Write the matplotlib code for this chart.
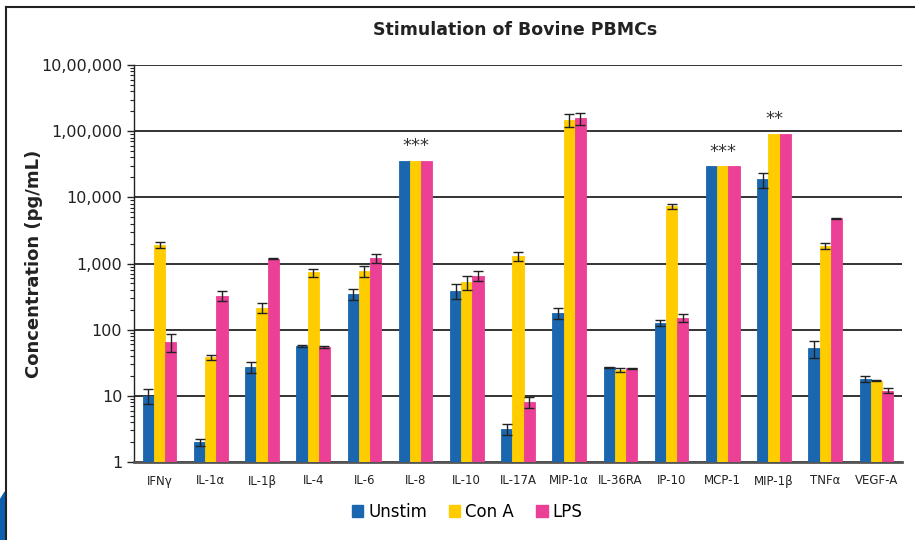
import matplotlib
matplotlib.use("Agg")
import matplotlib.pyplot as plt
import matplotlib.ticker as mticker
import matplotlib.patches as mpatches
import numpy as np

# data
cytokines = ["IFNγ", "IL-1α", "IL-1β", "IL-4", "IL-6", "IL-8", "IL-10", "IL-17A",
             "MIP-1α", "IL-36RA", "IP-10", "MCP-1", "MIP-1β", "TNFα", "VEGF-A"]
unstim = [10, 2.0, 27, 57, 346, 36000, 388, 3.2, 179, 27, 126, 30000, 18700, 52, 18]
unstim_err = [2.5, 0.25, 5, 2, 70, 0, 95, 0.6, 35, 0.5, 13, 0, 5000, 15, 2]
cona = [1900, 38, 215, 735, 770, 36000, 520, 1300, 147000, 24.6, 7300, 30000, 92000, 1860, 17]
cona_err = [200, 3, 35, 100, 150, 0, 125, 200, 32000, 1.5, 600, 0, 0, 200, 0.3]
lps = [66, 323, 1180, 55, 1200, 36000, 655, 8.0, 156000, 26, 150, 30000, 92000, 4820, 12]
lps_err = [20, 55, 30, 2, 180, 0, 120, 1.5, 30000, 0.5, 20, 0, 0, 50, 1]
stars = {"IL-8": "***", "MCP-1": "***", "MIP-1β": "**"}
yticks = [1, 10, 100, 1000, 10000, 100000, 1000000]
ytick_labels = ["1", "10", "100", "1,000", "10,000", "1,00,000", "10,00,000"]

series = [("Unstim", unstim, unstim_err, "#1a67b0"),
          ("Con A", cona, cona_err, "#ffcc00"),
          ("LPS", lps, lps_err, "#ec3f96")]

fig = plt.figure(figsize=(9.15, 5.4), dpi=100)
ax = fig.add_axes([134 / 915, 1 - 462 / 540, (902 - 134) / 915, (462 - 65) / 540])

x = np.arange(len(cytokines))
w = 0.22
for i, (name, vals, errs, col) in enumerate(series):
    ax.bar(x + (i - 1) * w, vals, w, color=col, edgecolor=col, linewidth=0.6,
           label=name, zorder=3)
    xs = [xx + (i - 1) * w for xx, e in zip(x, errs) if e > 0]
    ys = [v for v, e in zip(vals, errs) if e > 0]
    es = [e for e in errs if e > 0]
    ax.errorbar(xs, ys, yerr=es, fmt="none", ecolor="#222222", elinewidth=1,
                capsize=3.5, capthick=1, zorder=4)

for name, s in stars.items():
    k = cytokines.index(name)
    top = max(unstim[k], cona[k], lps[k])
    ax.text(k, top * 1.2, s, ha="center", va="bottom", fontsize=13, color="#333333")

ax.set_yscale("log")
ax.set_ylim(1, 1000000)
ax.set_xlim(-0.5, len(cytokines) - 0.5)
ax.set_yticks(yticks)
ax.set_yticklabels(ytick_labels, fontsize=11.5, color="#222222")
ax.yaxis.set_minor_locator(mticker.LogLocator(base=10, subs=np.arange(2, 10)))
ax.yaxis.set_minor_formatter(mticker.NullFormatter())
ax.tick_params(axis="y", which="major", length=5, width=1, color="#222222")
ax.tick_params(axis="y", which="minor", length=3, width=0.8, color="#222222")
ax.set_xticks(x)
ax.set_xticklabels(cytokines, fontsize=8.5, color="#222222")
ax.tick_params(axis="x", length=0, pad=9)
ax.grid(axis="y", which="major", color="#333333", linewidth=1.4, zorder=1)
ax.set_axisbelow(True)
for side in ["top", "right"]:
    ax.spines[side].set_visible(False)
ax.spines["left"].set_color("#222222")
ax.spines["left"].set_linewidth(1)
ax.spines["bottom"].set_color("#555555")
ax.spines["bottom"].set_linewidth(2)

ax.set_ylabel("Concentration (pg/mL)", fontsize=13, fontweight="bold", color="#222222")
ax.yaxis.set_label_coords(-0.119, 0.5)
fig.text(515 / 915, 1 - 30 / 540, "Stimulation of Bovine PBMCs", ha="center", va="center",
         fontsize=12.5, fontweight="bold", color="#222222")

handles = [mpatches.Patch(color=c, label=n) for n, _, _, c in series]
fig.legend(handles=handles, loc="center", bbox_to_anchor=(467 / 915, 1 - 512 / 540),
           ncol=3, frameon=False, fontsize=12, handlelength=0.7, handleheight=0.7,
           handletextpad=0.3, columnspacing=1.3)

# page frame and corner decoration
fig.add_artist(plt.Line2D([6 / 915, 1], [1 - 7 / 540] * 2, transform=fig.transFigure,
                          color="#222222", linewidth=1.5))
fig.add_artist(plt.Line2D([6 / 915] * 2, [0, 1 - 7 / 540], transform=fig.transFigure,
                          color="#222222", linewidth=1.5))
fig.add_artist(mpatches.Polygon([[0, 0], [5 / 915, 0], [5 / 915, 48 / 540], [0, 40 / 540]],
                                closed=True, transform=fig.transFigure, color="#0a5fb0"))

fig.savefig("out.png", dpi=100)
